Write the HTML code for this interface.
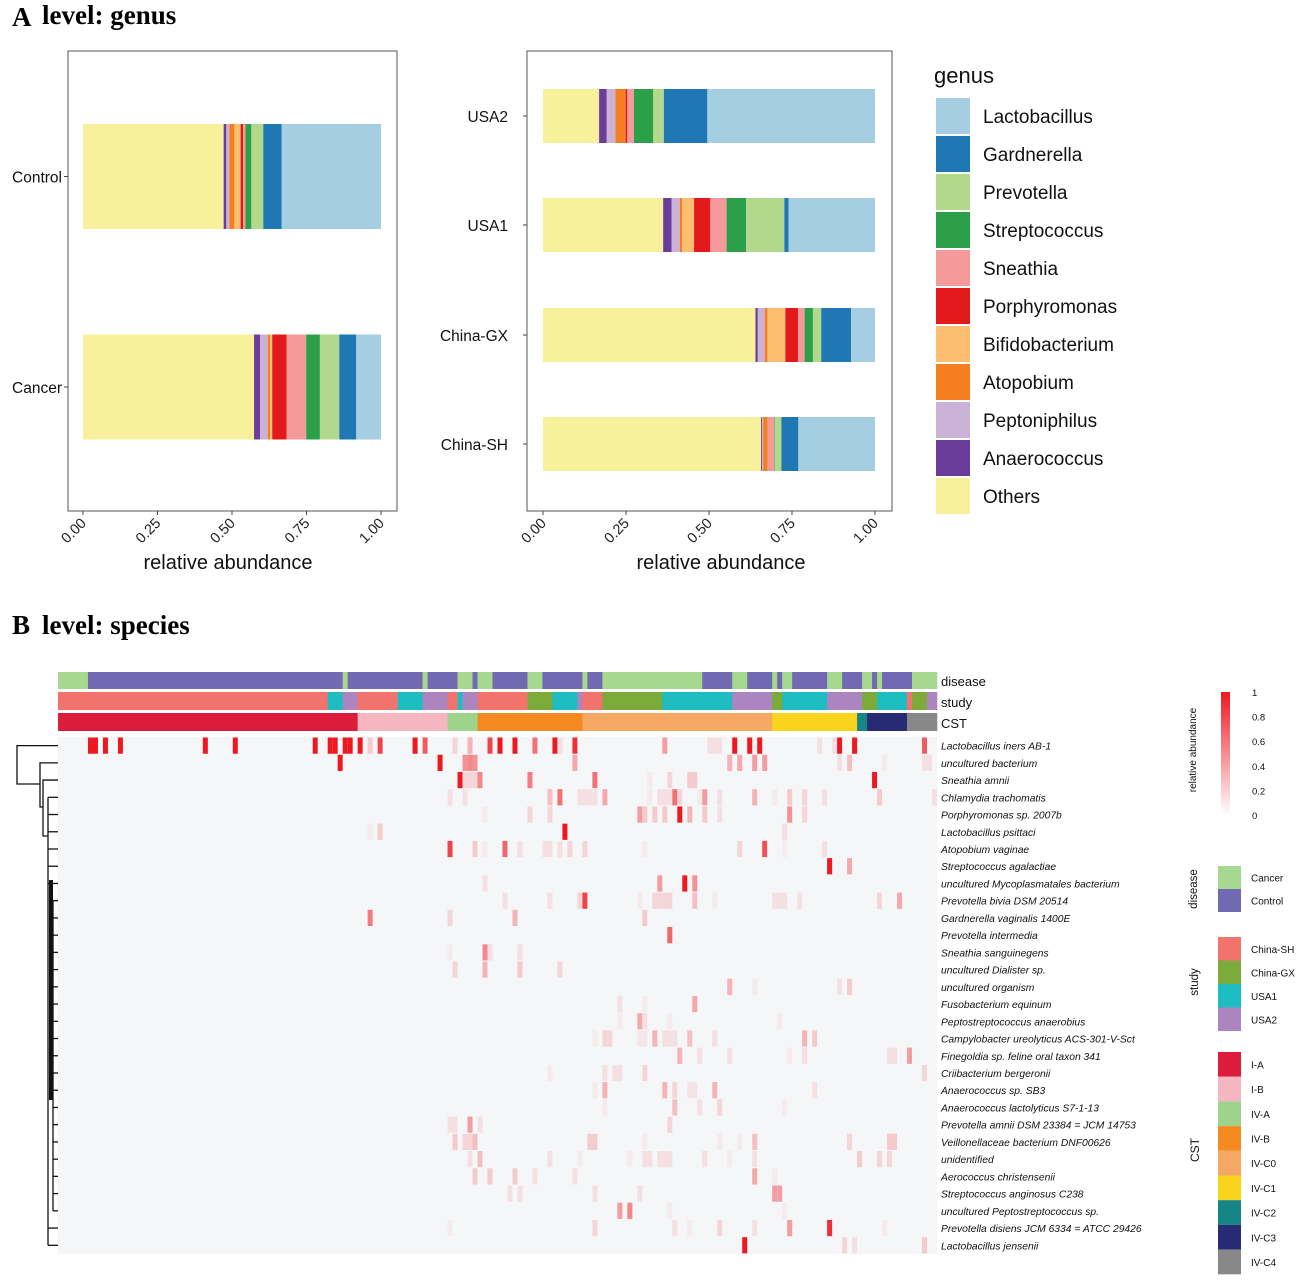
<!DOCTYPE html>
<html><head><meta charset="utf-8">
<style>
html,body{margin:0;padding:0;background:#fff;}
svg{display:block;font-family:"Liberation Sans",sans-serif;}
</style></head>
<body>
<svg id="fig" width="1299" height="1284" viewBox="0 0 1299 1284" xmlns="http://www.w3.org/2000/svg">
<g>
<text x="12" y="26" font-family="Liberation Serif,serif" font-weight="bold" font-size="27">A</text>
<text x="42" y="24" font-family="Liberation Serif,serif" font-weight="bold" font-size="27">level: genus</text>
</g>
<g>
<text x="12" y="634" font-family="Liberation Serif,serif" font-weight="bold" font-size="27">B</text>
<text x="42" y="634" font-family="Liberation Serif,serif" font-weight="bold" font-size="27">level: species</text>
</g>
<rect x="68" y="51" width="329" height="460" fill="none" stroke="#555" stroke-width="1"/>
<rect x="527" y="51" width="365" height="460" fill="none" stroke="#555" stroke-width="1"/>
<g id="gBars"></g>
<g id="gLegend"></g>
<g id="gHeat"></g>
<g id="gRight"></g>
</svg>
<script>
const NS="http://www.w3.org/2000/svg";
function mk(tag,attrs,parent,txt){const e=document.createElementNS(NS,tag);for(const k in attrs)e.setAttribute(k,attrs[k]);if(txt!==undefined)e.textContent=txt;parent.appendChild(e);return e;}

// ---------- Panel A data ----------
const genera=["Others","Anaerococcus","Peptoniphilus","Atopobium","Bifidobacterium","Porphyromonas","Sneathia","Streptococcus","Prevotella","Gardnerella","Lactobacillus"];
const genusColors=["#f7f19c","#6a3d9a","#cab2d6","#f57f20","#fdbf6f","#e31a1c","#f49a9a","#2ca048","#b2d98b","#1f78b4","#a6cee3"];
const groupsLeft=["Control","Cancer"];
const valsControl=[0.472,0.009,0.010,0.017,0.021,0.008,0.008,0.020,0.040,0.062,0.333];
const valsCancer=[0.574,0.020,0.026,0.008,0.007,0.048,0.066,0.046,0.065,0.057,0.083];
const groupsRight=["USA2","USA1","China-GX","China-SH"];
const valsUSA2=[0.169,0.023,0.026,0.031,0.000,0.005,0.020,0.058,0.032,0.131,0.505];
const valsUSA1=[0.362,0.025,0.025,0.007,0.036,0.049,0.049,0.059,0.115,0.013,0.260];
const valsChinaGX=[0.640,0.007,0.021,0.008,0.054,0.038,0.020,0.025,0.025,0.090,0.072];
const valsChinaSH=[0.657,0.003,0.003,0.014,0.000,0.000,0.019,0.002,0.020,0.051,0.231];
const xTicks=[0,0.25,0.5,0.75,1.0];
const xTickLabels=["0.00","0.25","0.50","0.75","1.00"];
const legendOrder=["Lactobacillus","Gardnerella","Prevotella","Streptococcus","Sneathia","Porphyromonas","Bifidobacterium","Atopobium","Peptoniphilus","Anaerococcus","Others"];

const gB=document.getElementById("gBars");
function drawStack(cfg){
  const xs=v=>cfg.x0+v*(cfg.x1-cfg.x0);
  cfg.groups.forEach((g,i)=>{
    const vals=cfg.values[i];const y=cfg.yc[i]-cfg.h/2;let acc=0;
    vals.forEach((v,j)=>{
      if(v<=0){return;}
      const r=mk("rect",{x:xs(acc),y:y,width:Math.max(0,xs(acc+v)-xs(acc)),height:cfg.h,fill:genusColors[j]},gB);
      
      
      acc+=v;
    });
    const t=mk("text",{x:cfg.labelX,y:cfg.yc[i]+6,"text-anchor":"end","font-size":"15.5",fill:"#111"},gB,g);
    
    
    mk("line",{x1:cfg.frameX-4,x2:cfg.frameX,y1:cfg.yc[i],y2:cfg.yc[i],stroke:"#444"},gB);
  });
  xTicks.forEach((tv,k)=>{
    const x=xs(tv);
    mk("line",{x1:x,x2:x,y1:511,y2:515,stroke:"#444"},gB);
    const t=mk("text",{x:x+4,y:524,"text-anchor":"end","font-size":"14.5",fill:"#222",transform:`rotate(-45 ${x+4} 524)`},gB,xTickLabels[k]);
    
    
  });
  const at=mk("text",{x:cfg.titleX,y:569,"text-anchor":"middle","font-size":"20",fill:"#111"},gB,"relative abundance");
  
  
}
drawStack({groups:groupsLeft,values:[valsControl,valsCancer],x0:83,x1:381,yc:[176.5,387],h:105,labelX:62,frameX:68,titleX:228});
drawStack({groups:groupsRight,values:[valsUSA2,valsUSA1,valsChinaGX,valsChinaSH],x0:543,x1:875,yc:[116,225,335,444],h:54,labelX:508,frameX:527,titleX:721});

// legend
const gL=document.getElementById("gLegend");
const lt=mk("text",{x:934,y:83,"font-size":"22",fill:"#111"},gL,"genus");


legendOrder.forEach((n,i)=>{
  const y=98+i*38;
  const r=mk("rect",{x:936,y:y,width:34,height:36,fill:genusColors[genera.indexOf(n)]},gL);
  
  
  const t=mk("text",{x:983,y:y+25,"font-size":"19",fill:"#111"},gL,n);
  
  
});

// ---------- Panel B data ----------
const species=["Lactobacillus iners AB-1","uncultured bacterium","Sneathia  amnii","Chlamydia trachomatis","Porphyromonas sp. 2007b","Lactobacillus psittaci","Atopobium vaginae","Streptococcus agalactiae","uncultured Mycoplasmatales bacterium","Prevotella bivia DSM 20514","Gardnerella vaginalis 1400E","Prevotella intermedia","Sneathia sanguinegens","uncultured Dialister sp.","uncultured organism","Fusobacterium equinum","Peptostreptococcus anaerobius","Campylobacter ureolyticus ACS-301-V-Sct","Finegoldia sp. feline oral taxon 341","Criibacterium bergeronii","Anaerococcus sp. SB3","Anaerococcus lactolyticus S7-1-13","Prevotella amnii DSM 23384 = JCM 14753","Veillonellaceae bacterium DNF00626","unidentified","Aerococcus christensenii","Streptococcus anginosus C238","uncultured Peptostreptococcus sp.","Prevotella disiens JCM 6334 = ATCC 29426","Lactobacillus jensenii"];
const nSamples=176;
const diseaseRuns=[[0,6,"Cancer"],[6,57,"Control"],[57,58,"Cancer"],[58,73,"Control"],[73,74,"Cancer"],[74,80,"Control"],[80,83,"Cancer"],[83,84,"Control"],[84,87,"Cancer"],[87,94,"Control"],[94,97,"Cancer"],[97,105,"Control"],[105,106,"Cancer"],[106,109,"Control"],[109,129,"Cancer"],[129,135,"Control"],[135,138,"Cancer"],[138,143,"Control"],[143,144,"Cancer"],[144,145,"Control"],[145,147,"Cancer"],[147,154,"Control"],[154,157,"Cancer"],[157,161,"Control"],[161,163,"Cancer"],[163,164,"Control"],[164,165,"Cancer"],[165,171,"Control"],[171,176,"Cancer"]];
const studyRuns=[[0,54,"China-SH"],[54,57,"USA1"],[57,60,"USA2"],[60,68,"China-SH"],[68,73,"USA1"],[73,78,"USA2"],[78,80,"China-SH"],[80,81,"USA1"],[81,84,"USA2"],[84,94,"China-SH"],[94,99,"China-GX"],[99,104,"USA1"],[104,105,"USA2"],[105,109,"China-SH"],[109,121,"China-GX"],[121,135,"USA1"],[135,143,"USA2"],[143,145,"China-GX"],[145,154,"USA1"],[154,161,"USA2"],[161,164,"China-GX"],[164,170,"USA1"],[170,171,"China-SH"],[171,174,"China-GX"],[174,176,"USA2"]];
const cstRuns=[[0,60,"I-A"],[60,78,"I-B"],[78,84,"IV-A"],[84,105,"IV-B"],[105,143,"IV-C0"],[143,160,"IV-C1"],[160,162,"IV-C2"],[162,170,"IV-C3"],[170,176,"IV-C4"]];
const diseaseCats=["Cancer","Control"];
const diseaseCols=["#a6d88f","#7169b2"];
const studyCats=["China-SH","China-GX","USA1","USA2"];
const studyCols=["#f2736b","#7cab3c","#1dbdc1","#ab84c0"];
const cstCats=["I-A","I-B","IV-A","IV-B","IV-C0","IV-C1","IV-C2","IV-C3","IV-C4"];
const cstCols=["#dc1c3c","#f6b6c1","#9dd38a","#f58b20","#f5a764","#f8d41c","#178485","#272b73","#888888"];
const rowCols=[
[6,7,9,12,29,35,51,54,55,57,58,60,62,64,71,73,79,82,86,88,91,95,99,100,103,121,130,131,132,135,138,140,152,155,156,159,173],
[56,76,81,82,83,103,134,136,139,141,156,158,165,173,174],
[80,81,82,83,84,94,107,118,122,126,127,163],
[78,81,98,100,104,105,106,107,109,118,120,121,122,123,124,128,129,132,139,143,146,149,153,164,175],
[85,94,98,116,117,119,121,124,126,129,132,146,149],
[62,64,101,145],
[78,83,85,89,92,97,98,100,102,105,117,136,141,145,153],
[154,158],
[85,120,125,127],
[89,98,104,105,116,119,120,121,122,127,131,143,144,145,148,164,168],
[62,78,91,117],
[122],
[78,85,86,92],
[79,85,92,100],
[134,139,156,158],
[112,117,127],
[112,116,117,122,144],
[107,109,110,116,117,119,121,122,123,126,131,149,151],
[124,128,134,146,149,166,167,170],
[98,109,111,112,117,173],
[107,109,121,123,126,127,131,151],
[109,123,128,132,145],
[78,79,82,84,122],
[79,81,82,83,106,107,117,132,136,139,158,166,167],
[82,84,98,104,114,117,118,120,121,122,129,134,139,160,164,166],
[83,86,91,95,103,139,143],
[90,92,107,116,143,144],
[112,114,122,145],
[78,107,123,126,132,139,146,154,165],
[137,157,159,173]];
const rowVals=[
[1,1,1,1,1,1,1,1,1,1,1,1,0.2,0.8,1,0.7,0.15,0.3,0.8,1,1,0.6,1,0.1,0.9,0.4,0.1,0.1,0.1,1,1,1,0.1,0.1,1,1,0.7],
[1,1,0.45,0.5,0.45,0.35,0.3,0.35,0.4,0.4,0.1,0.25,0.05,0.1,0.1],
[1,0.15,0.15,0.15,0.5,0.55,0.6,0.05,0.15,0.2,0.2,1],
[0.1,0.1,0.25,0.6,0.1,0.1,0.1,0.1,0.35,0.05,0.1,0.1,0.1,0.6,0.15,0.05,0.4,0.1,0.3,0.05,0.2,0.15,0.1,0.2,0.1],
[0.05,0.15,0.15,0.4,0.2,0.2,0.2,1,0.3,0.2,0.1,0.45,0.15],
[0.05,0.2,1,0.1],
[0.8,0.2,0.05,0.65,0.1,0.1,0.1,0.1,0.15,0.15,0.05,0.15,0.75,0.05,0.1],
[1,0.35],
[0.1,0.4,1,0.45],
[0.1,0.1,0.15,0.8,0.05,0.15,0.15,0.15,0.15,0.25,0.05,0.1,0.1,0.1,0.1,0.15,0.35],
[0.55,0.15,0.3,0.2],
[0.65],
[0.05,0.5,0.1,0.1],
[0.15,0.3,0.2,0.15],
[0.3,0.05,0.1,0.2],
[0.1,0.05,0.35],
[0.05,0.35,0.1,0.05,0.05],
[0.05,0.15,0.15,0.07,0.07,0.3,0.1,0.1,0.1,0.25,0.1,0.3,0.2],
[0.3,0.1,0.1,0.05,0.1,0.1,0.1,0.4],
[0.05,0.1,0.1,0.1,0.15,0.15],
[0.05,0.3,0.3,0.15,0.08,0.08,0.3,0.1],
[0.05,0.25,0.1,0.15,0.05],
[0.1,0.1,0.4,0.1,0.15],
[0.2,0.15,0.15,0.25,0.2,0.2,0.05,0.05,0.05,0.25,0.15,0.2,0.2],
[0.1,0.25,0.1,0.05,0.05,0.1,0.1,0.1,0.1,0.1,0.1,0.05,0.1,0.2,0.15,0.15],
[0.2,0.2,0.2,0.1,0.1,0.35,0.05],
[0.1,0.1,0.1,0.1,0.4,0.4],
[0.4,0.5,0.05,0.05],
[0.05,0.15,0.1,0.05,0.15,0.1,0.4,0.9,0.05],
[1,0.15,0.1,0.2]];
const scaleTicks=[1,0.8,0.6,0.4,0.2,0];
const scaleTickLabels=["1","0.8","0.6","0.4","0.2","0"];

const HX0=58,HX1=937,HY0=737,RH=17.23;
const sx=s=>HX0+s*(HX1-HX0)/nSamples;
const ry=r=>HY0+r*RH;
function heatColor(v){const a=[245,246,248],b=[238,24,32];return `rgb(${a.map((c,i)=>Math.round(c+(b[i]-c)*v)).join(",")})`;}

const gH=document.getElementById("gHeat");
function annRow(runs,cats,cols,y,h,label){
  runs.forEach(r=>{
    const e=mk("rect",{x:sx(r[0]),y:y,width:sx(r[1])-sx(r[0])+0.3,height:h,fill:cols[cats.indexOf(r[2])]},gH);
    
    
  });
  const t=mk("text",{x:941,y:y+h-3,"font-size":"13",fill:"#111"},gH,label);
  
  
}
annRow(diseaseRuns,diseaseCats,diseaseCols,672,17,"disease");
annRow(studyRuns,studyCats,studyCols,692,18,"study");
annRow(cstRuns,cstCats,cstCols,713,18,"CST");
const bg=mk("rect",{x:HX0,y:HY0,width:HX1-HX0,height:RH*species.length,fill:"#f5f6f8"},gH);


rowCols.forEach((cols,r)=>{
  cols.forEach((c,k)=>{
    const e=mk("rect",{x:sx(c),y:ry(r)+0.5,width:sx(c+1)-sx(c),height:RH-1,fill:heatColor(rowVals[r][k])},gH);
    
    
  });
});
species.forEach((s,i)=>{
  const t=mk("text",{x:941,y:ry(i)+RH/2+4,"font-size":"10.3","font-style":"italic",fill:"#111"},gH,s);
  
  
});
// dendrogram
const dend=mk("g",{stroke:"#111","stroke-width":"1.3",fill:"none"},gH);


const my=r=>ry(r)+RH/2;
mk("path",{d:`M58 ${my(0)} H17 V784 H40`},dend);
mk("path",{d:`M58 ${my(1)} H40 V807 H43`},dend);
mk("path",{d:`M58 ${my(2)} H43 V836 H48`},dend);
mk("path",{d:`M48 ${my(3)} V${my(29)}`},dend);
for(let r=3;r<30;r++){mk("path",{d:`M${r>=9&&r<28?53:48} ${my(r)} H58`},dend);}
mk("path",{d:`M53 ${my(9)} V${my(27)}`},dend);
mk("rect",{x:49,y:880,width:4,height:220,fill:"#111",stroke:"none"},dend);

// right legends
const gR=document.getElementById("gRight");
const defs=mk("defs",{},gR);
const lg=mk("linearGradient",{id:"rg",x1:"0",y1:"0",x2:"0",y2:"1"},defs);
mk("stop",{offset:"0","stop-color":"#ee1820"},lg);
mk("stop",{offset:"1","stop-color":"#ffffff"},lg);
const cb=mk("rect",{x:1221,y:692,width:9,height:123,fill:"url(#rg)"},gR);


const cy=v=>815-v*123;
scaleTicks.forEach((v,i)=>{
  const t=mk("text",{x:1252,y:cy(v)+4,"font-size":"9.5",fill:"#111"},gR,scaleTickLabels[i]);
  
  
});
function vtitle(x,y,txt,fs,name){
  const t=mk("text",{x:x,y:y,"font-size":fs,"text-anchor":"middle",fill:"#111",transform:`rotate(-90 ${x} ${y})`},gR,txt);
  
  
}
vtitle(1196,750,"relative abundance","10","color-scale-title");
vtitle(1197,889,"disease","11.5","disease-legend-title");
vtitle(1198,982,"study","11.5","study-legend-title");
vtitle(1199,1150,"CST","12","cst-legend-title");
function catLegend(cats,cols,y0,step,h,name){
  cats.forEach((c,i)=>{
    const y=y0+i*step;
    const r=mk("rect",{x:1218,y:y,width:23,height:h,fill:cols[i]},gR);
    
    
    const t=mk("text",{x:1251,y:y+h/2+4,"font-size":"10",fill:"#111"},gR,c);
    
    
  });
}
catLegend(diseaseCats,diseaseCols,866,23,23,"disease");
catLegend(studyCats,studyCols,937,23.5,23.5,"study");
catLegend(cstCats,cstCols,1052,24.7,24.7,"cst");
</script>
</body></html>
